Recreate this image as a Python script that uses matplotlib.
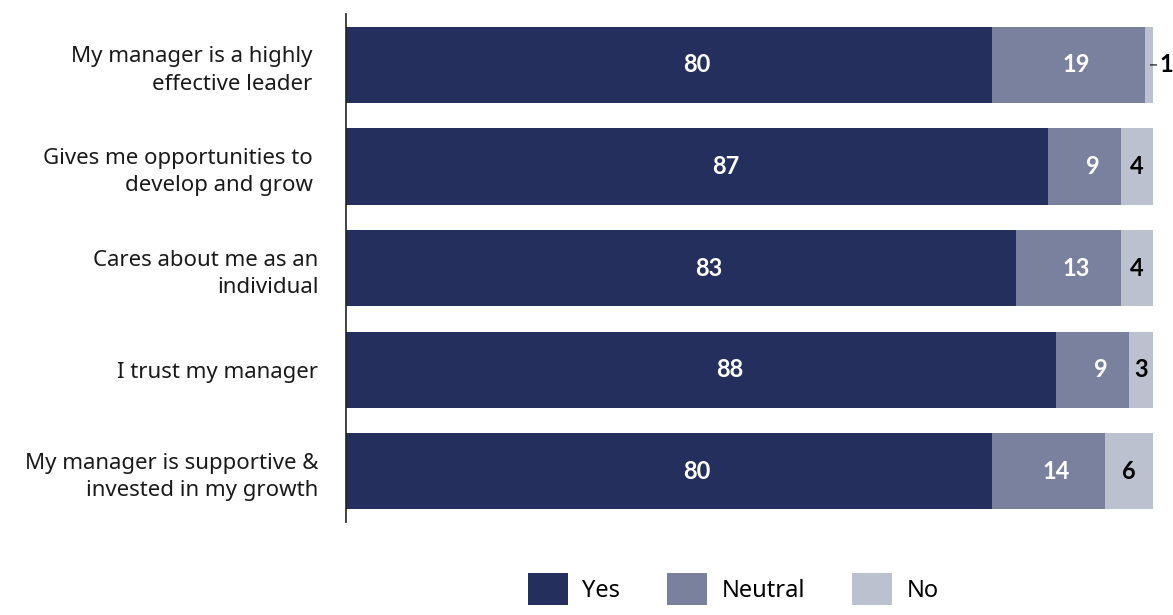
import numpy as np
import matplotlib.pyplot as plt

## data ##
categories = ["My manager is a highly \neffective leader ",
              "Gives me opportunities to \ndevelop and grow ",
              "Cares about me as an\nindividual",
              "I trust my manager",
              "My manager is supportive &\ninvested in my growth"]
yes = [80, 87, 83, 88, 80]
neutral = [19, 9, 13, 9, 14]
no = [1, 4, 4, 3, 6]
series_names = ["Yes", "Neutral", "No"]
##

colors = ['#252f5e', '#7a819e', '#bcc1cf']
plt.rcParams['font.family'] = ['Noto Sans', 'DejaVu Sans']
numfont = dict(family='Lato', fontsize=17, fontweight='bold')

fig = plt.figure(figsize=(11.73, 6.15), dpi=100)
ax = fig.add_axes([0.295, 0.151, 0.688, 0.826])

y = np.arange(len(categories))
yes_a = np.array(yes)
neu_a = np.array(neutral)
no_a = np.array(no)
h = 0.75

b1 = ax.barh(y, yes_a, height=h, color=colors[0], label=series_names[0])
b2 = ax.barh(y, neu_a, left=yes_a, height=h, color=colors[1], label=series_names[1])
b3 = ax.barh(y, no_a, left=yes_a + neu_a, height=h, color=colors[2], label=series_names[2])

for i in range(len(y)):
    ax.text(yes_a[i] / 2 + 3.5, y[i], str(yes_a[i]), color='white',
            ha='center', va='center', **numfont)
    ax.text(yes_a[i] + neu_a[i] / 2 + 1, y[i], str(neu_a[i]), color='white',
            ha='center', va='center', **numfont)
    if no_a[i] < 2:
        # too thin, put label outside with a small leader
        ax.annotate(str(no_a[i]), xy=(99.5, y[i]), xytext=(100.8, y[i]),
                    color='black', ha='left', va='center',
                    arrowprops=dict(arrowstyle='-', color='black', lw=0.8,
                                    shrinkA=0, shrinkB=1), **numfont)
    else:
        ax.text(yes_a[i] + neu_a[i] + no_a[i] / 2, y[i], str(no_a[i]), color='black',
                ha='center', va='center', **numfont)

ax.set_xlim(0, 100)
ax.set_ylim(4.5, -0.5)
ax.set_yticks(y)
ax.set_yticklabels(categories, fontsize=16, color='#1a1a1a', linespacing=1.4)
ax.tick_params(axis='y', length=0, pad=20)
ax.set_xticks([])
for s in ['top', 'right', 'bottom']:
    ax.spines[s].set_visible(False)
ax.spines['left'].set_color('#222222')
ax.spines['left'].set_linewidth(1.2)

fig.legend(handles=[b1, b2, b3], labels=series_names, loc='lower center',
           bbox_to_anchor=(733 / 1173, -0.005), ncol=3, frameon=False, fontsize=17,
           handlelength=1.7, handleheight=1.7, columnspacing=2.0, handletextpad=0.6,
           borderpad=0.05)

plt.savefig('out.png', dpi=100)
